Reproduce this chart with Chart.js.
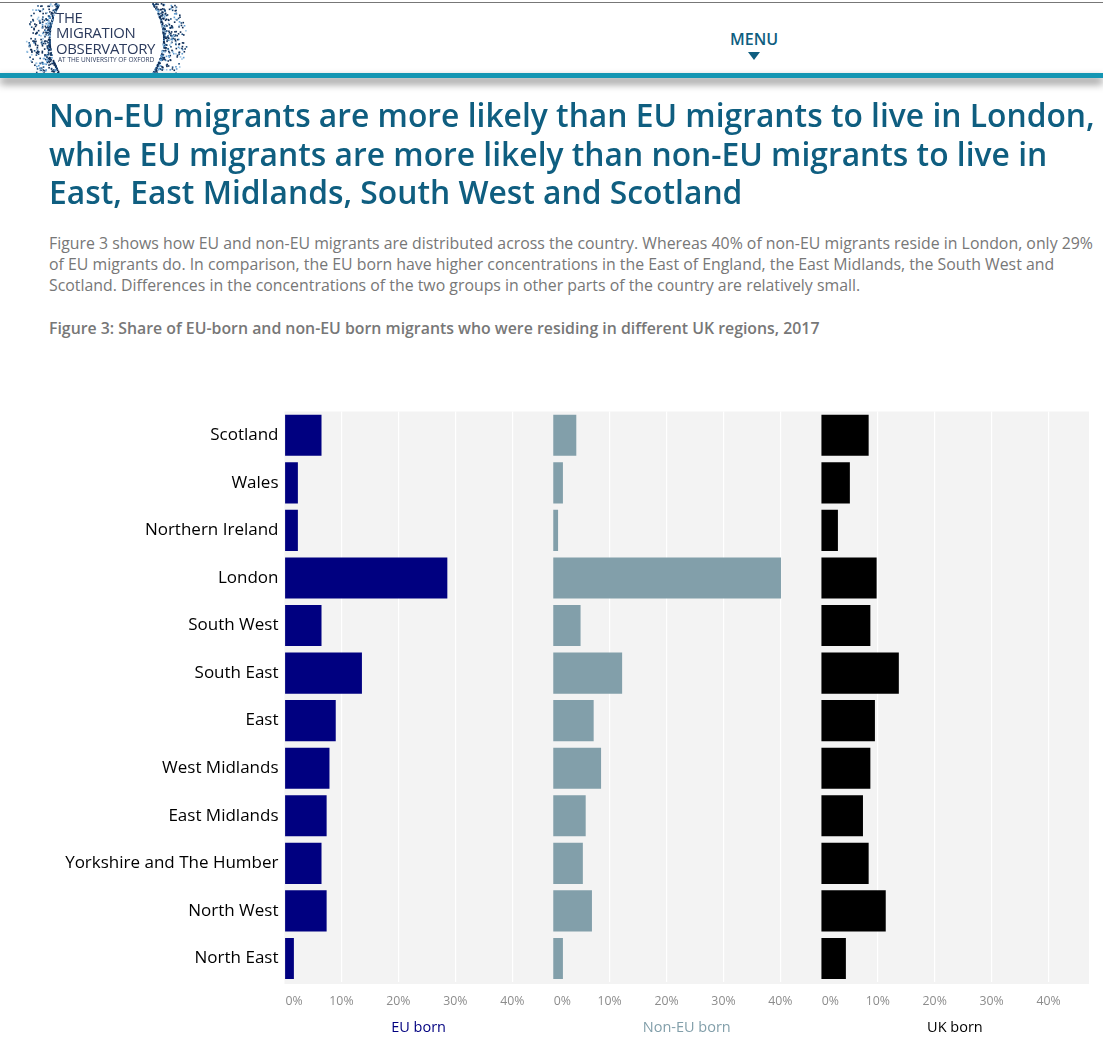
<!DOCTYPE html>
<html>
<head>
<meta charset="UTF-8">
<title>Migration Observatory Figure 3</title>
<script src="https://cdn.jsdelivr.net/npm/chart.js"></script>
<style>
html, body { margin: 0; padding: 0; background: #fff; font-family: "Open Sans", sans-serif; }
body { position: relative; width: 1103px; height: 1048px; overflow: hidden; }
#topline { position: absolute; left: 0; top: 2px; width: 1103px; height: 1px; background: #777; }
#bar { position: absolute; left: 0; top: 73px; width: 1103px; height: 5px; background: #1496b3; box-shadow: 0 5px 9px rgba(0,0,0,.6); }
#dots { position: absolute; left: 0; top: 3px; }
.logo { position: absolute; left: 56px; color: #2b3a5c; white-space: nowrap; font-size: 14.9px; line-height: 16px; letter-spacing: -.3px; }
.logo.small { font-size: 6.5px; line-height: 7px; letter-spacing: 0; left: 58px; top: 56px; }
#menu { position: absolute; left: 730px; top: 29px; color: #0f5e80; font-size: 16px; font-weight: 600; line-height: 20px; }
#arrow { position: absolute; left: 748px; top: 52px; width: 0; height: 0; border-left: 6px solid transparent; border-right: 6px solid transparent; border-top: 8px solid #0f5e80; }
h1 { position: absolute; left: 49px; top: 96px; margin: 0; width: 1054px; color: #0f5e80; font-size: 31.8px; line-height: 38.5px; font-weight: 600; white-space: nowrap; }
p { position: absolute; left: 49px; top: 232.5px; margin: 0; color: #777; font-size: 15.87px; line-height: 21px; white-space: nowrap; }
h2 { position: absolute; left: 49px; top: 317px; margin: 0; color: #777; font-size: 15.85px; line-height: 22px; font-weight: 600; white-space: nowrap; }
#wrap { position: absolute; left: 0; top: 400px; width: 1103px; height: 648px; }
</style>
</head>
<body>
<div id="topline"></div>
<canvas id="dots" width="200" height="70"></canvas>
<div class="logo" style="top:9px">THE</div>
<div class="logo" style="top:24px">MIGRATION</div>
<div class="logo" style="top:40px">OBSERVATORY</div>
<div class="logo small">AT THE UNIVERSITY OF OXFORD</div>
<div id="bar"></div>
<div id="menu">MENU</div>
<div id="arrow"></div>
<h1>Non-EU migrants are more likely than EU migrants to live in London,<br>while EU migrants are more likely than non-EU migrants to live in<br>East, East Midlands, South West and Scotland</h1>
<p>Figure 3 shows how EU and non-EU migrants are distributed across the country. Whereas 40% of non-EU migrants reside in London, only 29%<br>of EU migrants do. In comparison, the EU born have higher concentrations in the East of England, the East Midlands, the South West and<br>Scotland. Differences in the concentrations of the two groups in other parts of the country are relatively small.</p>
<h2>Figure 3: Share of EU-born and non-EU born migrants who were residing in different UK regions, 2017</h2>
<div id="wrap"><canvas id="chart"></canvas></div>
<script>
// data
const regions = ['Scotland', 'Wales', 'Northern Ireland', 'London', 'South West', 'South East', 'East', 'West Midlands', 'East Midlands', 'Yorkshire and The Humber', 'North West', 'North East'];
const euBorn = [6.5, 2.35, 2.35, 28.6, 6.5, 13.6, 9, 7.9, 7.4, 6.5, 7.4, 1.65];
const nonEuBorn = [4.15, 1.8, 0.95, 40.1, 4.9, 12.2, 7.2, 8.5, 5.8, 5.3, 6.9, 1.8];
const ukBorn = [8.4, 5.1, 3, 9.8, 8.7, 13.7, 9.5, 8.7, 7.4, 8.4, 11.4, 4.4];
const axisTicks = [0, 10, 20, 30, 40];
const axisMax = 47.1;

const NAVY = '#000080', SLATE = '#829faa', BLACK = '#000000';

// logo speckle, decoration only
function drawLogoDots() {
    const ctx = document.getElementById('dots').getContext('2d');
    const colors = ['#0d2b55', '#1d4f80', '#16365f', '#5c9bd1', '#0d2b55', '#9cc4e4'];
    let s = 12345;
    const next = () => { s = (s * 16807) % 2147483647; return s / 2147483647; };
    for (let i = 0; i < 800; i++) {
        const y = next() * 70;
        const b = next();
        const k = Math.pow((y - 35) / 35, 2);
        const spread = b * b * b * 24;
        const x = i % 2 === 0 ? 49 + 10 * k - spread : 163 - 11 * k + spread;
        ctx.fillStyle = colors[Math.floor(next() * colors.length)];
        ctx.fillRect(x, y, 1.6, 1.6);
    }
}
drawLogoDots();

// grey panel behind all three plots
const panelBg = {
    id: 'panelBg',
    beforeDraw(chart) {
        const { ctx, chartArea: a } = chart;
        ctx.save();
        ctx.fillStyle = '#f3f3f3';
        ctx.fillRect(a.left, a.top, a.right - a.left, a.bottom - a.top + 1.7);
        ctx.restore();
    }
};

function xAxis(title, color) {
    return {
        type: 'linear',
        position: 'bottom',
        stack: 'panels',
        stackWeight: 1,
        min: 0,
        max: axisMax,
        border: { display: false },
        grid: {
            color: c => (c.tick && c.tick.value === 0 ? 'rgba(0,0,0,0)' : '#ffffff'),
            lineWidth: 1.2,
            drawTicks: false
        },
        afterBuildTicks(scale) { scale.ticks = axisTicks.map(v => ({ value: v })); },
        ticks: {
            color: '#8c8c8c',
            font: { family: 'Open Sans', size: 12.3 },
            padding: 12.3,
            maxRotation: 0,
            autoSkip: false,
            // 0% sits a little to the right of its gridline in the original
            callback: v => (v === 0 ? '      0%' : v + '%')
        },
        title: {
            display: true,
            text: title,
            color: color,
            font: { family: 'Open Sans', size: 14.5 },
            padding: { top: -2, bottom: 0 }
        }
    };
}

function barSet(label, data, color, axisId) {
    return { label, data, backgroundColor: color, xAxisID: axisId, barPercentage: 0.864, categoryPercentage: 1 };
}

new Chart(document.getElementById('chart'), {
    type: 'bar',
    data: {
        labels: regions,
        datasets: [
            barSet('EU born', euBorn, NAVY, 'x1'),
            barSet('Non-EU born', nonEuBorn, SLATE, 'x2'),
            barSet('UK born', ukBorn, BLACK, 'x3')
        ]
    },
    options: {
        indexAxis: 'y',
        responsive: true,
        maintainAspectRatio: false,
        animation: false,
        layout: { padding: { top: 11.5, right: 14, bottom: 11, left: 0 } },
        plugins: { legend: { display: false }, tooltip: { enabled: false } },
        datasets: { bar: { grouped: false } },
        scales: {
            y: {
                type: 'category',
                offset: true,
                border: { display: false },
                grid: { display: false, drawTicks: false },
                afterFit(scale) {
                    scale.width = 284.5;
                    // label overhang would push the plot down otherwise
                    scale.paddingTop = 0;
                    scale.paddingBottom = 0;
                },
                ticks: { color: '#000', font: { family: 'Open Sans', size: 17 }, padding: 6, autoSkip: false }
            },
            x1: xAxis('EU born', NAVY),
            x2: xAxis('Non-EU born', SLATE),
            x3: xAxis('UK born', BLACK)
        }
    },
    plugins: [panelBg]
});
</script>
</body>
</html>
